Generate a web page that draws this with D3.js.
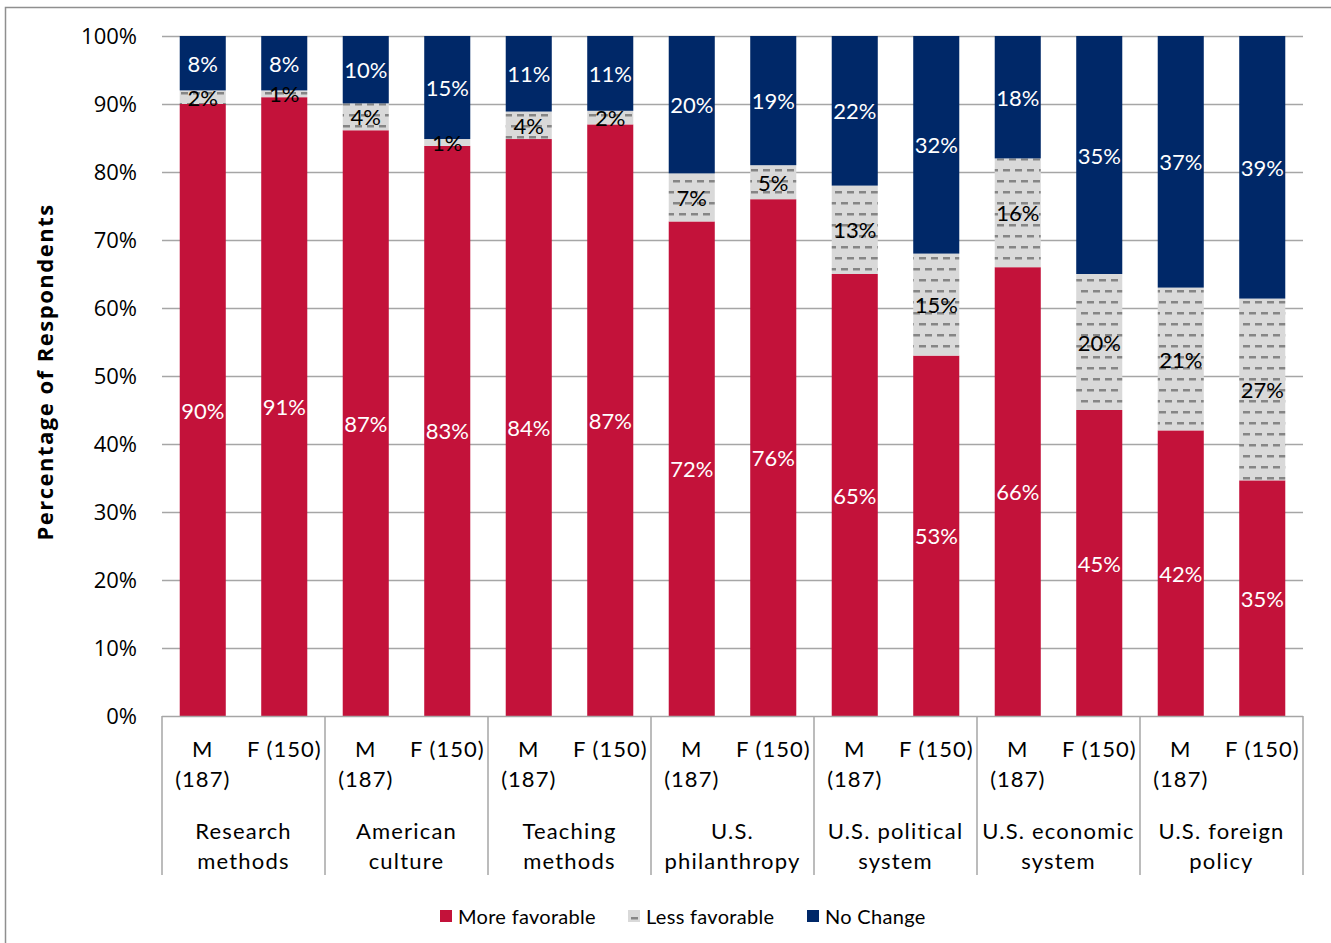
<!DOCTYPE html>
<html>
<head>
<meta charset="utf-8">
<script src="https://cdn.jsdelivr.net/npm/d3@7"></script>
<style>
  html, body { margin: 0; padding: 0; background: #fff; }
  svg { display: block; }
  text { font-family: "Lato", "Open Sans", sans-serif; }
</style>
</head>
<body>
<svg id="chart" width="1331" height="943"></svg>
<script>
// Topics asked about, each split into male and female respondents
const categories = ["Research methods", "American culture", "Teaching methods",
  "U.S. philanthropy", "U.S. political system", "U.S. economic system", "U.S. foreign policy"];
const categoryLines = [["Research", "methods"], ["American", "culture"], ["Teaching", "methods"],
  ["U.S.", "philanthropy"], ["U.S. political", "system"], ["U.S. economic", "system"], ["U.S. foreign", "policy"]];
const genders = ["M", "F"];
const genderLines = [["M", "(187)"], ["F (150)"]];

// Percentages, ordered category by category: M then F
const moreFavorable = [90, 91, 87, 83, 84, 87, 72, 76, 65, 53, 66, 45, 42, 35];
const lessFavorable = [2, 1, 4, 1, 4, 2, 7, 5, 13, 15, 16, 20, 21, 27];
const noChange      = [8, 8, 10, 15, 11, 11, 20, 19, 22, 32, 18, 35, 37, 39];

const seriesNames = ["More favorable", "Less favorable", "No Change"];
const yTicks = [0, 0.1, 0.2, 0.3, 0.4, 0.5, 0.6, 0.7, 0.8, 0.9, 1.0];

const rows = moreFavorable.map((v, i) => ({
  category: categories[Math.floor(i / 2)],
  gender: genders[i % 2],
  "More favorable": v,
  "Less favorable": lessFavorable[i],
  "No Change": noChange[i]
}));

const svg = d3.select("#chart");
const plotLeft = 162, plotRight = 1303, plotTop = 36, plotBottom = 716;

const x0 = d3.scaleBand().domain(categories).range([plotLeft, plotRight]).padding(0);
const x1 = d3.scaleBand().domain(genders).range([0, x0.bandwidth()])
  .paddingInner(0.435).paddingOuter(0.2175);
const y = d3.scaleLinear().domain([0, 1]).range([plotBottom, plotTop]);

const colors = { "More favorable": "#C3123A", "Less favorable": "url(#dashes)", "No Change": "#002868" };
const labelColors = { "More favorable": "#fff", "Less favorable": "#000", "No Change": "#fff" };

// Dashed fill used for the "Less favorable" segments
const defs = svg.append("defs");
const pat = defs.append("pattern").attr("id", "dashes").attr("patternUnits", "userSpaceOnUse")
  .attr("width", 12).attr("height", 22);
pat.append("rect").attr("width", 12).attr("height", 22).attr("fill", "#D9D9D9");
[[0, 4], [6, 15], [-6, 15], [12, 4]].forEach(([dx, dy]) => {
  pat.append("rect").attr("x", dx + 1).attr("y", dy).attr("width", 7).attr("height", 2.5)
    .attr("fill", "#858585");
});

// Outer frame
svg.append("rect").attr("x", 5.5).attr("y", 7.5).attr("width", 1340).attr("height", 950)
  .attr("fill", "none").attr("stroke", "#8F8F8F").attr("stroke-width", 1.5);

// Gridlines
svg.append("g").selectAll("line").data(yTicks.filter(t => t > 0)).join("line")
  .attr("x1", plotLeft).attr("x2", plotRight)
  .attr("y1", d => Math.round(y(d)) + 0.5).attr("y2", d => Math.round(y(d)) + 0.5)
  .attr("stroke", "#A6A6A6").attr("stroke-width", 1.5);

// Y axis labels (no axis line)
const yAxis = d3.axisLeft(y).tickValues(yTicks).tickFormat(d3.format(".0%")).tickSize(0).tickPadding(25);
const yg = svg.append("g").attr("transform", `translate(${plotLeft},0)`).call(yAxis);
yg.select(".domain").remove();
yg.selectAll(".tick line").remove();
yg.selectAll(".tick text").attr("font-size", 22).attr("fill", "#000")
  .style("font-family", "'Open Sans', sans-serif");

svg.append("text")
  .attr("transform", `translate(53,${(plotTop + plotBottom) / 2 - 4}) rotate(-90)`)
  .attr("text-anchor", "middle").attr("font-size", 22).attr("font-weight", "bold")
  .attr("letter-spacing", 1.5)
  .style("font-family", "'Open Sans', sans-serif")
  .text("Percentage of Respondents");

// Stacked bars, normalised to 100%
const stack = d3.stack().keys(seriesNames).offset(d3.stackOffsetExpand);
const stacked = stack(rows);

const layers = svg.append("g").selectAll("g").data(stacked).join("g");
layers.selectAll("rect").data(d => d.map(p => ({ p, key: d.key }))).join("rect")
  .attr("x", d => x0(d.p.data.category) + x1(d.p.data.gender))
  .attr("width", x1.bandwidth())
  .attr("y", d => y(d.p[1]))
  .attr("height", d => y(d.p[0]) - y(d.p[1]))
  .attr("fill", d => colors[d.key]);

// Value labels at the middle of each segment
const labels = svg.append("g");
stacked.forEach(layer => {
  layer.forEach(p => {
    labels.append("text")
      .attr("x", x0(p.data.category) + x1(p.data.gender) + x1.bandwidth() / 2)
      .attr("y", (y(p[0]) + y(p[1])) / 2)
      .attr("text-anchor", "middle").attr("dominant-baseline", "central")
      .attr("font-size", 22).attr("fill", labelColors[layer.key])
      .text(p.data[layer.key] + "%");
  });
});

// Baseline and category separators
svg.append("line").attr("x1", plotLeft).attr("x2", plotRight)
  .attr("y1", plotBottom + 0.5).attr("y2", plotBottom + 0.5)
  .attr("stroke", "#A6A6A6").attr("stroke-width", 1.5);
const seps = categories.map(c => x0(c)).concat([plotRight]);
svg.append("g").selectAll("line").data(seps).join("line")
  .attr("x1", d => d).attr("x2", d => d).attr("y1", plotBottom).attr("y2", 875)
  .attr("stroke", "#A6A6A6").attr("stroke-width", 1.5);

// Gender labels
const gLab = svg.append("g");
categories.forEach(c => {
  genders.forEach((g, gi) => {
    const cx = x0(c) + x1(g) + x1.bandwidth() / 2;
    genderLines[gi].forEach((line, li) => {
      gLab.append("text").attr("x", cx).attr("y", 757 + li * 30)
        .attr("text-anchor", "middle").attr("font-size", 22).attr("letter-spacing", 1)
        .text(line);
    });
  });
});

// Category labels
const cLab = svg.append("g");
categories.forEach((c, i) => {
  categoryLines[i].forEach((line, li) => {
    cLab.append("text").attr("x", x0(c) + x0.bandwidth() / 2).attr("y", 839 + li * 30)
      .attr("text-anchor", "middle").attr("font-size", 22).attr("letter-spacing", 1.2)
      .text(line);
  });
});

// Legend
const legendX = [440, 628, 807];
const legend = svg.append("g");
seriesNames.forEach((name, i) => {
  legend.append("rect").attr("x", legendX[i]).attr("y", 910).attr("width", 12).attr("height", 12)
    .attr("fill", colors[name]);
  legend.append("text").attr("x", legendX[i] + 18).attr("y", 924)
    .attr("font-size", 20).attr("letter-spacing", 0.3).text(name);
});
</script>
</body>
</html>
